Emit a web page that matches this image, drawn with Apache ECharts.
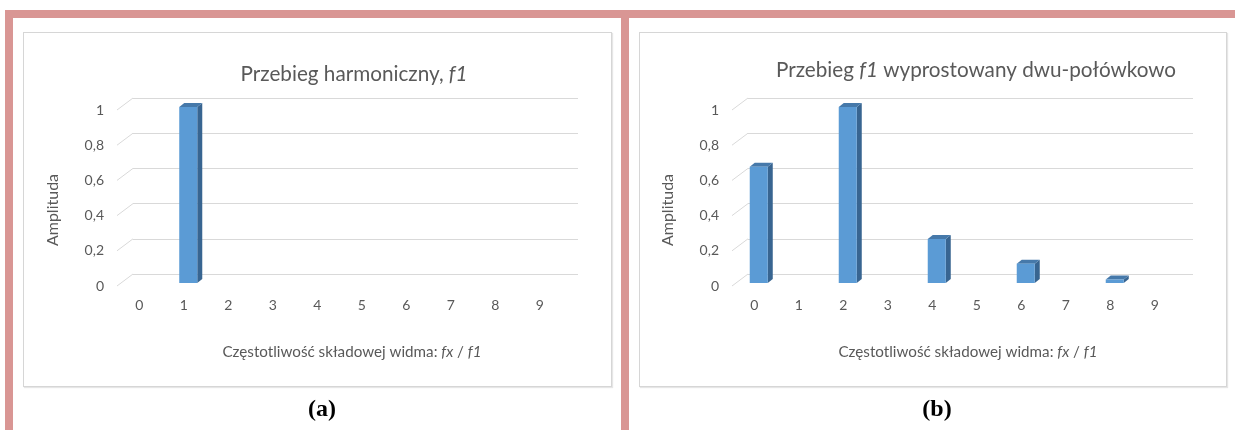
<!DOCTYPE html>
<html>
<head>
<meta charset="utf-8">
<script src="https://cdn.jsdelivr.net/npm/echarts@6/dist/echarts.min.js"></script>
<style>
  html, body { margin:0; padding:0; background:#fff; }
  #wrap { position:relative; width:1235px; height:430px; overflow:hidden; background:#fff; }
  .bar { position:absolute; background:#D99694; }
  .box { position:absolute; border:1px solid #d6d6d6; box-shadow:1px 1px 1px #e6e6e6; background:#fff; }
  #chart { position:absolute; left:0; top:0; width:1235px; height:430px; }
</style>
</head>
<body>
<div id="wrap">
  <div class="bar" style="left:5px;top:10px;width:1230px;height:8px;"></div>
  <div class="bar" style="left:5px;top:10px;width:8px;height:420px;"></div>
  <div class="bar" style="left:621px;top:10px;width:8px;height:420px;"></div>
  <div class="box" style="left:23px;top:32px;width:587px;height:353px;"></div>
  <div class="box" style="left:639px;top:32px;width:586px;height:353px;"></div>
  <div id="chart"></div>
</div>
<script>
// ---- data ----
const categories = ['0','1','2','3','4','5','6','7','8','9'];
const valuesA = [0, 1, 0, 0, 0, 0, 0, 0, 0, 0];
const valuesB = [0.66, 0, 1, 0, 0.25, 0, 0.11, 0, 0.02, 0];
const yTicks = [0, 0.2, 0.4, 0.6, 0.8, 1];
const titleA = 'Przebieg harmoniczny, {i|f1}';
const titleB = 'Przebieg {i|f1} wyprostowany dwu-połówkowo';
const xTitle = 'Częstotliwość składowej widma: {i|fx} / {i|f1}';
const yTitle = 'Amplituda';

// ---- style ----
const FONT = 'Lato';
const TXT = '#595959';
const GRIDC = '#d9d9d9';
const FRONT = '#5B9BD5', SIDE = '#386591', TOP = '#4679AA';
const DEPTH_X = 16, DEPTH_Y = -12;   // floor depth (front plane -> back wall)
const BAR_OX = 4.5, BAR_OY = -3;     // bar front-face offset from front plane
const BAR_DX = 5, BAR_DY = -4;       // bar depth

const chart = echarts.init(document.getElementById('chart'), null, {renderer:'canvas'});

function renderBar(params, api) {
  const v = api.value(1);
  if (!(v > 0)) return null;
  const cat = api.value(0);
  const p = api.coord([cat, v]);
  const p0 = api.coord([cat, 0]);
  const band = api.size([1, 0])[0];
  const w = band * 0.405;
  const cx = p[0] + BAR_OX;
  const x0 = cx - w / 2, x1 = cx + w / 2;
  const yT = p[1] + BAR_OY, yB = p0[1] + BAR_OY;
  return {
    type: 'group',
    children: [
      {type:'polygon', shape:{points:[[x1,yB],[x1+BAR_DX,yB+BAR_DY],[x1+BAR_DX,yT+BAR_DY],[x1,yT]]}, style:{fill:SIDE}},
      {type:'polygon', shape:{points:[[x0,yT],[x1,yT],[x1+BAR_DX,yT+BAR_DY],[x0+BAR_DX,yT+BAR_DY]]}, style:{fill:TOP}},
      {type:'rect', shape:{x:x0, y:yT, width:w, height:yB-yT}, style:{fill:FRONT}}
    ]
  };
}

function renderDiag(params, api) {
  const p = api.coord([0, api.value(1)]);
  const x = params.coordSys.x;
  return {type:'line', shape:{x1:x, y1:p[1], x2:x+DEPTH_X, y2:p[1]+DEPTH_Y}, style:{stroke:GRIDC, lineWidth:1}};
}

const fmt = v => String(v).replace('.', ',');

const panels = [
  {left:117, values:valuesA},
  {left:732, values:valuesB}
];
const W = 445, TOPY = 110, H = 176;

const grid = [], xAxis = [], yAxis = [], series = [];
panels.forEach((pn, k) => {
  grid.push({left:pn.left, top:TOPY, width:W, height:H});
  grid.push({left:pn.left + DEPTH_X, top:TOPY + DEPTH_Y, width:W, height:H});
  const gf = 2*k, gb = 2*k+1;
  xAxis.push({type:'category', gridIndex:gf, data:categories,
    axisLine:{show:false}, axisTick:{show:false},
    axisLabel:{color:TXT, fontFamily:FONT, fontSize:14, margin:12}});
  xAxis.push({type:'category', gridIndex:gb, data:categories, show:false});
  yAxis.push({type:'value', gridIndex:gf, min:0, max:1, interval:0.2,
    axisLine:{show:false}, axisTick:{show:false}, splitLine:{show:false},
    axisLabel:{color:TXT, fontFamily:FONT, fontSize:14, margin:13, formatter:fmt}});
  yAxis.push({type:'value', gridIndex:gb, min:0, max:1, interval:0.2,
    axisLine:{show:false}, axisTick:{show:false}, axisLabel:{show:false},
    splitLine:{show:true, lineStyle:{color:GRIDC, width:1}}});
  series.push({type:'custom', xAxisIndex:gf, yAxisIndex:gf, clip:false,
    renderItem:renderDiag, data:yTicks.map(v => [0, v]), silent:true, z:1});
  series.push({type:'custom', xAxisIndex:gf, yAxisIndex:gf, clip:false,
    renderItem:renderBar, data:pn.values.map((v,i) => [i, v]), z:5});
});

const TS = 20.7, XS = 15.2;
const richT = {i:{fontStyle:'italic', fontSize:TS, color:TXT, fontFamily:FONT}};
const richX = {i:{fontStyle:'italic', fontSize:XS, color:TXT, fontFamily:FONT}};

const title = [
  {text:titleA, left:349, top:59, textAlign:'center',
    textStyle:{color:TXT, fontFamily:FONT, fontSize:TS, fontWeight:'normal', rich:richT}},
  {text:titleB, left:971, top:55, textAlign:'center',
    textStyle:{color:TXT, fontFamily:FONT, fontSize:TS, fontWeight:'normal', rich:richT}},
  {text:xTitle, left:347, top:340, textAlign:'center',
    textStyle:{color:TXT, fontFamily:FONT, fontSize:XS, fontWeight:'normal', rich:richX}},
  {text:xTitle, left:963, top:340, textAlign:'center',
    textStyle:{color:TXT, fontFamily:FONT, fontSize:XS, fontWeight:'normal', rich:richX}},
  {text:'(a)', left:317, top:393, textAlign:'center',
    textStyle:{color:'#000', fontFamily:'Liberation Serif', fontSize:24, fontWeight:'bold'}},
  {text:'(b)', left:932, top:393, textAlign:'center',
    textStyle:{color:'#000', fontFamily:'Liberation Serif', fontSize:24, fontWeight:'bold'}}
];

const graphic = [
  {type:'text', x:53, y:210, rotation:Math.PI/2,
    style:{text:yTitle, fill:TXT, font:'16px ' + FONT, align:'center', verticalAlign:'middle'}},
  {type:'text', x:668, y:210, rotation:Math.PI/2,
    style:{text:yTitle, fill:TXT, font:'16px ' + FONT, align:'center', verticalAlign:'middle'}}
];

chart.setOption({
  animation:false,
  backgroundColor:'transparent',
  title, grid, xAxis, yAxis, series, graphic
});
</script>
</body>
</html>
